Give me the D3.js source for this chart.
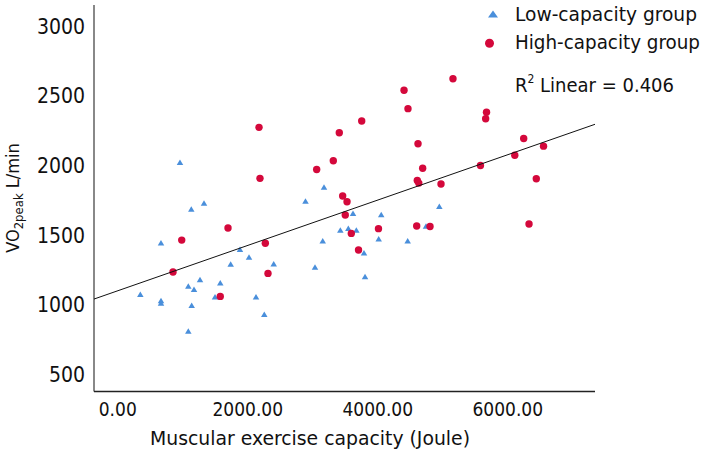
<!DOCTYPE html>
<html><head><meta charset="utf-8">
<script src="https://cdn.jsdelivr.net/npm/d3@7"></script>
<style>body{margin:0;background:#fff}svg{display:block}</style>
</head><body>
<svg id="chart" width="705" height="456"></svg>
<script>
// Low-capacity group (triangles)
const lowX = [355, 673, 673, 673, 965, 1093, 1093, 1139, 1145, 1181, 1273, 1335, 1504, 1585, 1745, 1888, 2027, 2135, 2262, 2407, 2896, 3042, 3161, 3181, 3432, 3555, 3627, 3678, 3796, 3812, 4022, 4061, 4468, 4750, 4955];
const lowY = [1077, 1447, 1032, 1014, 2024, 1136, 813, 1689, 998, 1113, 1184, 1732, 1060, 1160, 1294, 1400, 1344, 1060, 933, 1296, 1746, 1273, 1461, 1847, 1538, 1550, 1658, 1538, 1375, 1205, 1476, 1649, 1461, 1567, 1708];
// High-capacity group (circles)
const highX = [858, 992, 1585, 1704, 2181, 2196, 2278, 2319, 3068, 3324, 3416, 3468, 3535, 3508, 3601, 3712, 3761, 4019, 4412, 4473, 4616, 4639, 4627, 4699, 4607, 4812, 4981, 5165, 5588, 5681, 5668, 6116, 6253, 6335, 6447, 6558];
const highY = [1237, 1466, 1062, 1553, 2275, 1909, 1443, 1227, 1972, 2035, 2236, 1782, 1741, 1646, 1514, 1395, 2320, 1548, 2541, 2409, 1893, 1875, 2157, 1981, 1567, 1563, 1868, 2624, 2001, 2383, 2337, 2075, 2195, 1581, 1906, 2140];
const xTicks = [0, 2000, 4000, 6000];
const yTicks = [500, 1000, 1500, 2000, 2500, 3000];
const fitIntercept = 1101;
const fitSlope = 0.1627;
const rSquared = 0.406;
const seriesNames = ["Low-capacity group", "High-capacity group"];

const RED = "#d4083b", BLUE = "#4a8fdb";
const FONT = "'DejaVu Sans Condensed','DejaVu Sans',sans-serif";

const svg = d3.select("#chart");
const x = d3.scaleLinear().domain([0, 6000]).range([117.25, 507.25]);
const y = d3.scaleLinear().domain([500, 3000]).range([374.7, 26.3]);
const xMin = x.invert(94), xMax = x.invert(595);
const yMin = y.invert(391.5), yMax = y.invert(5);

// axes
const gx = svg.append("g").attr("transform", `translate(0,${y(yMin)})`)
  .call(d3.axisBottom(x).tickValues(xTicks).tickSize(0).tickPadding(11).tickFormat(d3.format(".2f")));
gx.select(".domain").remove();
gx.selectAll("text").attr("font-family", FONT).attr("font-size", 19).attr("fill", "#111");
const gy = svg.append("g").attr("transform", `translate(${x(xMin)},0)`)
  .call(d3.axisLeft(y).tickValues(yTicks).tickSize(0).tickPadding(9).tickFormat(d3.format("d")));
gy.select(".domain").remove();
gy.selectAll("text").attr("font-family", FONT).attr("font-size", 21).attr("fill", "#111");

svg.append("line").attr("x1", x(xMin)).attr("x2", x(xMin)).attr("y1", y(yMax)).attr("y2", y(yMin))
  .attr("stroke", "#888").attr("stroke-width", 2);
svg.append("line").attr("x1", x(xMin)).attr("x2", x(xMax)).attr("y1", y(yMin)).attr("y2", y(yMin))
  .attr("stroke", "#222").attr("stroke-width", 1.5);

// markers
const tri = (w, h) => `M0,${-h/2}L${w/2},${h/2}L${-w/2},${h/2}Z`;
svg.append("g").selectAll("path").data(d3.range(lowX.length)).join("path")
  .attr("d", tri(6.5, 5.5))
  .attr("transform", i => `translate(${x(lowX[i])},${y(lowY[i])})`)
  .attr("fill", BLUE);
svg.append("g").selectAll("circle").data(d3.range(highX.length)).join("circle")
  .attr("cx", i => x(highX[i])).attr("cy", i => y(highY[i])).attr("r", 3.7)
  .attr("fill", RED);

// fit line
svg.append("line")
  .attr("x1", x(xMin)).attr("y1", y(fitIntercept + fitSlope * xMin))
  .attr("x2", x(xMax)).attr("y2", y(fitIntercept + fitSlope * xMax))
  .attr("stroke", "#111").attr("stroke-width", 1);

// axis titles
svg.append("text").attr("x", 310).attr("y", 444.5).attr("text-anchor", "middle")
  .attr("font-family", FONT).attr("font-size", 19).attr("fill", "#111")
  .attr("textLength", 320).attr("lengthAdjust", "spacingAndGlyphs")
  .text("Muscular exercise capacity (Joule)");
const yt = svg.append("text").attr("transform", "translate(19,198) rotate(-90)")
  .attr("text-anchor", "middle").attr("font-family", FONT).attr("font-size", 18).attr("fill", "#111");
yt.append("tspan").text("VO");
yt.append("tspan").attr("font-size", 13).attr("dy", 4).text("2peak");
yt.append("tspan").attr("dy", -4).text(" L/min");

// legend
const lg = svg.append("g");
lg.append("path").attr("d", tri(10, 7)).attr("transform", "translate(493,14)").attr("fill", BLUE);
lg.append("circle").attr("cx", 489.5).attr("cy", 43.3).attr("r", 4.5).attr("fill", RED);
lg.append("text").attr("x", 515).attr("y", 20.7).attr("font-family", FONT).attr("font-size", 20).attr("fill", "#111")
  .attr("textLength", 182).attr("lengthAdjust", "spacingAndGlyphs").text(seriesNames[0]);
lg.append("text").attr("x", 515).attr("y", 49.3).attr("font-family", FONT).attr("font-size", 20).attr("fill", "#111")
  .attr("textLength", 185).attr("lengthAdjust", "spacingAndGlyphs").text(seriesNames[1]);
const rt = lg.append("text").attr("x", 515).attr("y", 91.7).attr("font-family", FONT).attr("font-size", 20).attr("fill", "#111");
rt.append("tspan").text("R");
rt.append("tspan").attr("font-size", 12).attr("dy", -9).text("2");
rt.append("tspan").attr("dy", 9).text(" Linear = " + rSquared.toFixed(3));
</script>
</body></html>
